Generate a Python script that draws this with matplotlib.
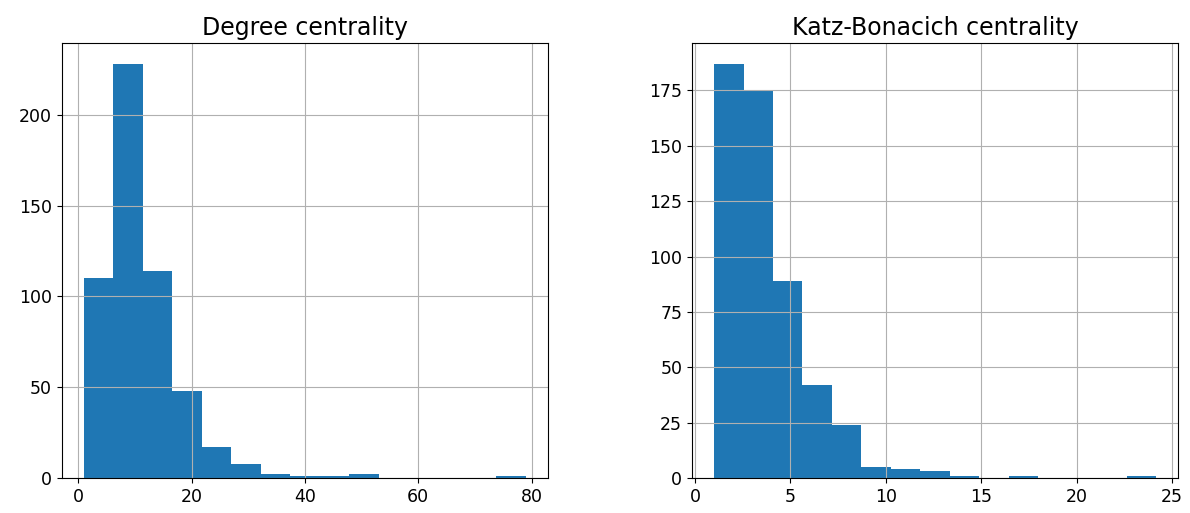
import numpy as np
import matplotlib
matplotlib.use("Agg")
import matplotlib.pyplot as plt

# histogram counts, 15 equal-width bins per measure
degree_range = (1.0, 79.0)
degree_counts = [110, 228, 114, 48, 17, 8, 2, 1, 1, 2, 0, 0, 0, 0, 1]

katz_range = (1.0, 24.15)
katz_counts = [187, 175, 89, 42, 24, 5, 4, 3, 1, 0, 1, 0, 0, 0, 1]

titles = ["Degree centrality", "Katz-Bonacich centrality"]
xticks = [[0, 20, 40, 60, 80], [0, 5, 10, 15, 20, 25]]
yticks = [[0, 50, 100, 150, 200], [0, 25, 50, 75, 100, 125, 150, 175]]

fig, axes = plt.subplots(1, 2, figsize=(11.9, 5.13), dpi=100)
fig.subplots_adjust(left=0.052, right=0.99, bottom=0.068, top=0.916, wspace=0.296)

for i, ax in enumerate(axes):
    rng = [degree_range, katz_range][i]
    counts = [degree_counts, katz_counts][i]
    edges = np.linspace(rng[0], rng[1], len(counts) + 1)
    ax.hist(edges[:-1], bins=edges, weights=counts, color="#1f77b4")
    ax.grid(True)
    ax.set_title(titles[i], fontsize=17)
    ax.set_xticks(xticks[i])
    ax.set_yticks(yticks[i])
    ax.tick_params(labelsize=12.5)

fig.savefig("out.png")
